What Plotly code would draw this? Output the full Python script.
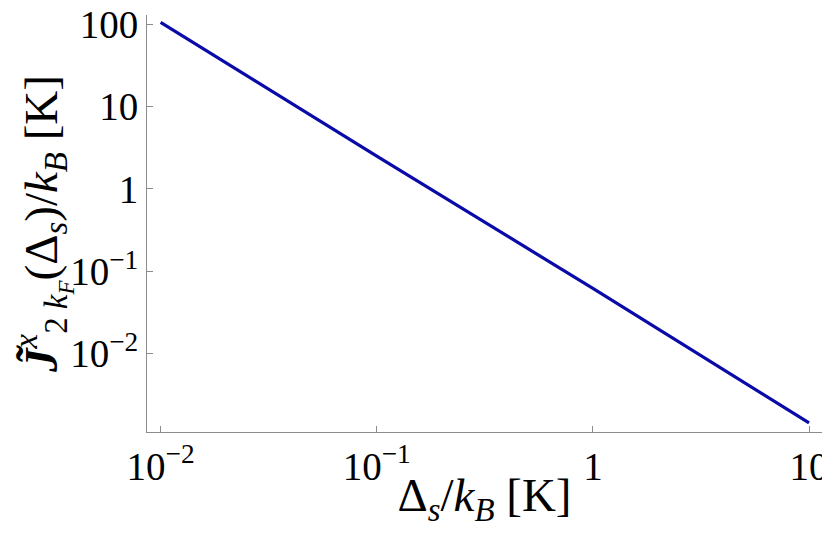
import plotly.graph_objects as go

# data (log-log straight line)
delta_s = [0.01, 0.1, 1, 10]
j_tilde = [105, 2.5, 0.062, 0.00145]

xtick_vals = [0.01, 0.1, 1, 10]
xtick_text = ["10<sup>−2</sup>", "10<sup>−1</sup>", "1", "10"]
ytick_vals = [0.01, 0.1, 1, 10, 100]
ytick_text = ["10<sup>−2</sup>", "10<sup>−1</sup>", "1", "10", "100"]

y_title = ("<b><i>J̃</i></b><sup><i>x</i></sup><sub>2 <i>k</i><sub><i>F</i></sub></sub>"
           "(Δ<sub><i>s</i></sub>)/<i>k</i><sub><i>B</i></sub> [K]")
x_title = "Δ<sub><i>s</i></sub>/<i>k</i><sub><i>B</i></sub> [K]"

font_name = "Liberation Serif"
axis_grey = "#8c8c8c"

trace = go.Scatter(x=delta_s, y=j_tilde, mode="lines",
                   line=dict(color="#0a0aa8", width=3.2), showlegend=False)

fig = go.Figure(data=[trace])
# page body has an 8px margin, so the figure is a bit smaller than the window
fig.update_layout(
    width=822, height=520,
    margin=dict(l=139, r=8, t=7, b=96, autoexpand=False),
    paper_bgcolor="white", plot_bgcolor="white",
    font=dict(family=font_name, size=39, color="black"),
)
fig.update_xaxes(
    type="log", range=[-2.063, 1.06], automargin=False,
    tickvals=xtick_vals, ticktext=xtick_text, ticklabeloverflow="allow",
    ticks="inside", ticklen=6, tickcolor=axis_grey, tickwidth=1,
    showline=True, linecolor=axis_grey, linewidth=1, mirror=False,
    showgrid=False, zeroline=False,
    title=dict(text=x_title, standoff=0),
)
fig.update_yaxes(
    type="log", range=[-2.95, 2.11], automargin=False,
    tickvals=ytick_vals, ticktext=ytick_text, ticklabeloverflow="allow",
    ticks="inside", ticklen=6, tickcolor=axis_grey, tickwidth=1,
    showline=True, linecolor=axis_grey, linewidth=1, mirror=False,
    showgrid=False, zeroline=False,
    title=dict(text=y_title, standoff=22),
)

fig.write_html("out.html")
